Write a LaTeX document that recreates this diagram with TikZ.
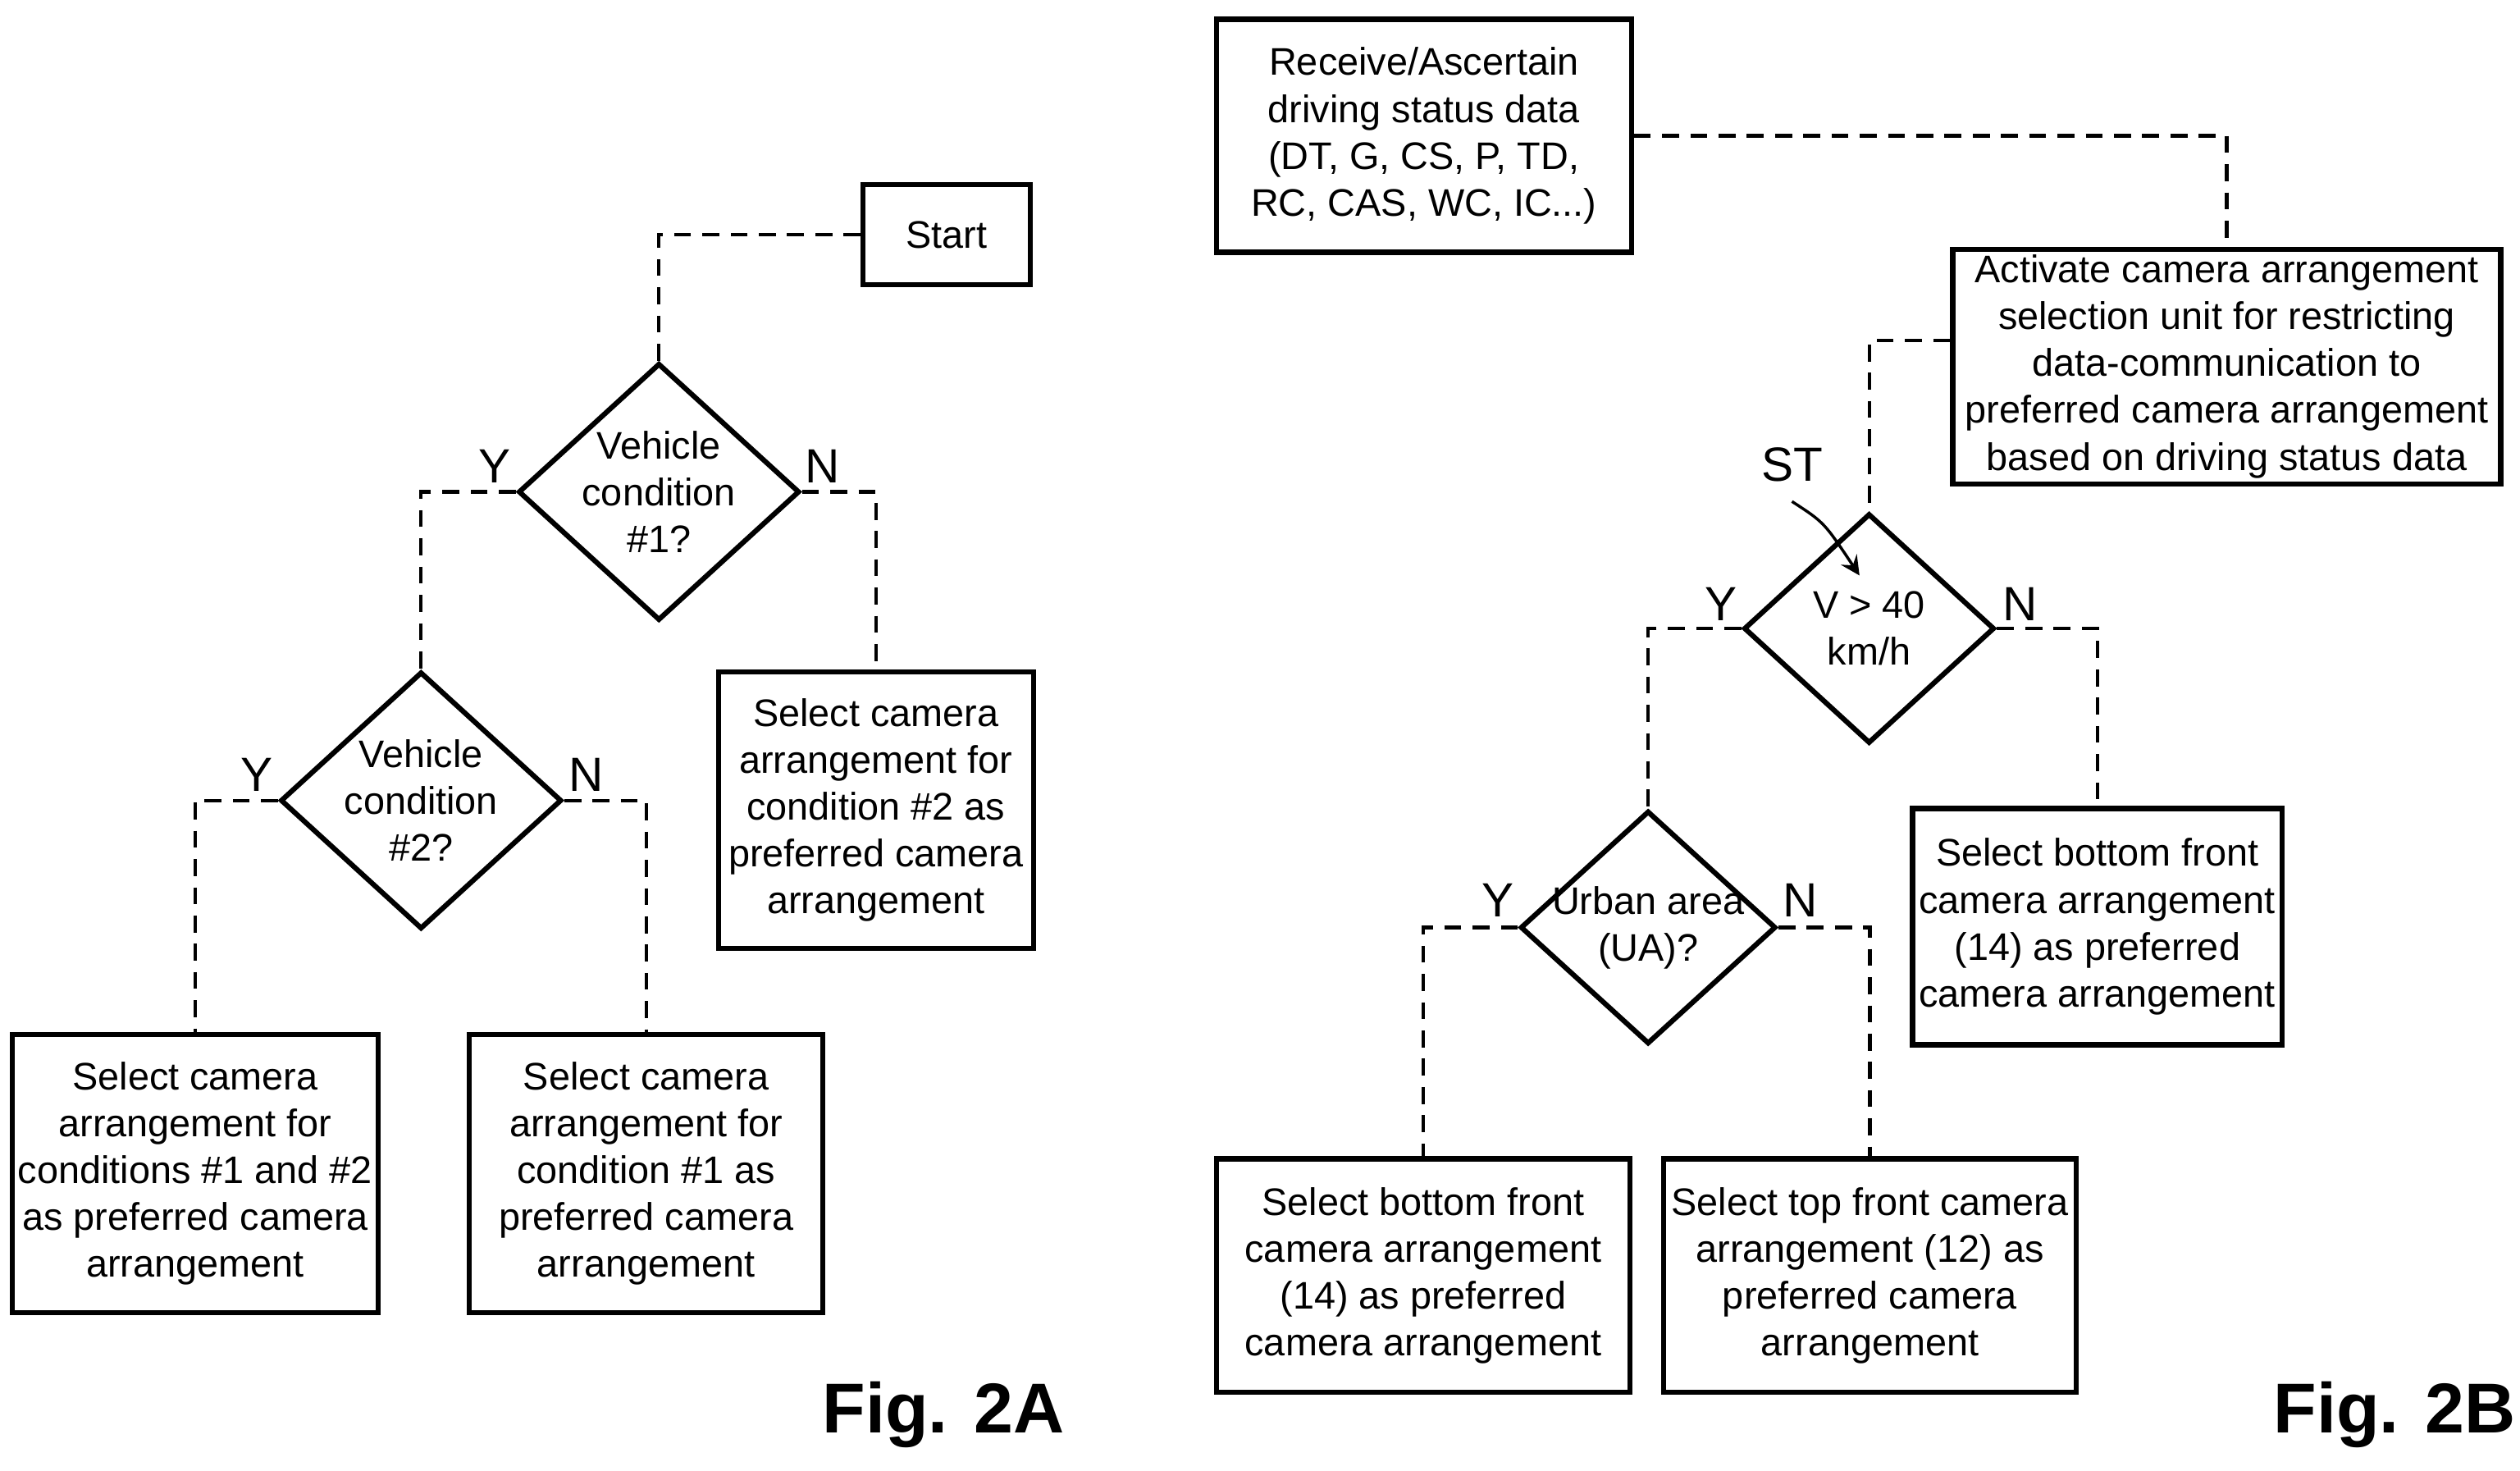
\documentclass[tikz,border=0pt]{standalone}
\usepackage{fontspec}
\setmainfont{Liberation Sans}
\usetikzlibrary{positioning,shapes.geometric}
\begin{document}
\begin{tikzpicture}
    [box/.style={draw,line width=0.9pt,align=center,inner sep=1pt,font=\fontsize{6.8}{8.3}\selectfont},
     dec/.style={draw,diamond,line width=0.9pt,align=center,inner sep=-4pt,font=\fontsize{6.8}{8.3}\selectfont},
     link/.style={dashed,line width=0.6pt,dash pattern=on 3pt off 2pt},
     yn/.style={font=\fontsize{8.5}{10}\selectfont},
     fig/.style={font=\bfseries\fontsize{12.5}{14}\selectfont}]
    \useasboundingbox (0,0) rectangle (15.68,-9.15);
    % Fig. 2A
    \node[box,minimum width=1.04cm,minimum height=0.62cm] (start) at (5.89,-1.46) {Start};
    \node[dec,minimum width=1.75cm,minimum height=1.6cm] (vc1) at (4.10,-3.06) {Vehicle\\condition\\\#1?};
    \node[dec,minimum width=1.75cm,minimum height=1.6cm] (vc2) at (2.62,-4.98) {Vehicle\\condition\\\#2?};
    \node[box,minimum width=1.96cm,minimum height=1.72cm] (sel2) at (5.45,-5.04) {Select camera\\arrangement for\\condition \#2 as\\preferred camera\\arrangement};
    \node[box,minimum width=2.19cm,minimum height=1.73cm] (sel12) at (1.215,-7.30) {Select camera\\arrangement for\\conditions \#1 and \#2\\as preferred camera\\arrangement};
    \node[box,minimum width=2.20cm,minimum height=1.73cm] (sel1) at (4.02,-7.30) {Select camera\\arrangement for\\condition \#1 as\\preferred camera\\arrangement};
    \node[fig] (figa) at (5.87,-8.80) {Fig. 2A};
    \draw[link] (start.west) -| (vc1.north);
    \draw[link] (vc1.west) -| (vc2.north);
    \draw[link] (vc1.east) -| (sel2.north);
    \draw[link] (vc2.west) -| (sel12.north);
    \draw[link] (vc2.east) -| (sel1.north);
    \node[yn] at (3.08,-2.90) {Y};
    \node[yn] at (5.12,-2.90) {N};
    \node[yn] at (1.60,-4.82) {Y};
    \node[yn] at (3.65,-4.82) {N};
    % Fig. 2B
    \node[box,minimum width=2.58cm,minimum height=1.45cm] (recv) at (8.86,-0.845) {Receive/Ascertain\\driving status data\\(DT, G, CS, P, TD,\\RC, CAS, WC, IC...)};
    \node[box,minimum width=3.41cm,minimum height=1.42cm] (act) at (13.855,-2.28) {Activate camera arrangement\\selection unit for restricting\\data-communication to\\preferred camera arrangement\\based on driving status data};
    \node[dec,minimum width=1.56cm,minimum height=1.43cm] (spd) at (11.63,-3.91) {V > 40\\km/h};
    \node[dec,minimum width=1.59cm,minimum height=1.45cm] (ua) at (10.255,-5.77) {Urban area\\(UA)?};
    \node[box,minimum width=2.30cm,minimum height=1.47cm] (bfa) at (13.05,-5.765) {Select bottom front\\camera arrangement\\(14) as preferred\\camera arrangement};
    \node[box,minimum width=2.57cm,minimum height=1.45cm] (bfb) at (8.855,-7.935) {Select bottom front\\camera arrangement\\(14) as preferred\\camera arrangement};
    \node[box,minimum width=2.57cm,minimum height=1.45cm] (tf) at (11.635,-7.935) {Select top front camera\\arrangement (12) as\\preferred camera\\arrangement};
    \node[fig] (figb) at (14.90,-8.80) {Fig. 2B};
    \node[yn] (st) at (11.15,-2.89) {ST};
    \draw[link] (recv.east) -| (act.north);
    \draw[link] (act.west|-0,-2.12) -| (spd.north);
    \draw[link] (spd.west) -| (ua.north);
    \draw[link] (spd.east) -| (bfa.north);
    \draw[link] (ua.west) -| (bfb.north);
    \draw[link] (ua.east) -| (tf.north);
    \draw[->,>=stealth,line width=0.5pt] (st.south) .. controls (11.35,-3.25) .. (11.57,-3.58);
    \node[yn] at (10.71,-3.76) {Y};
    \node[yn] at (12.57,-3.76) {N};
    \node[yn] at (9.32,-5.60) {Y};
    \node[yn] at (11.20,-5.60) {N};
\end{tikzpicture}
\end{document}
